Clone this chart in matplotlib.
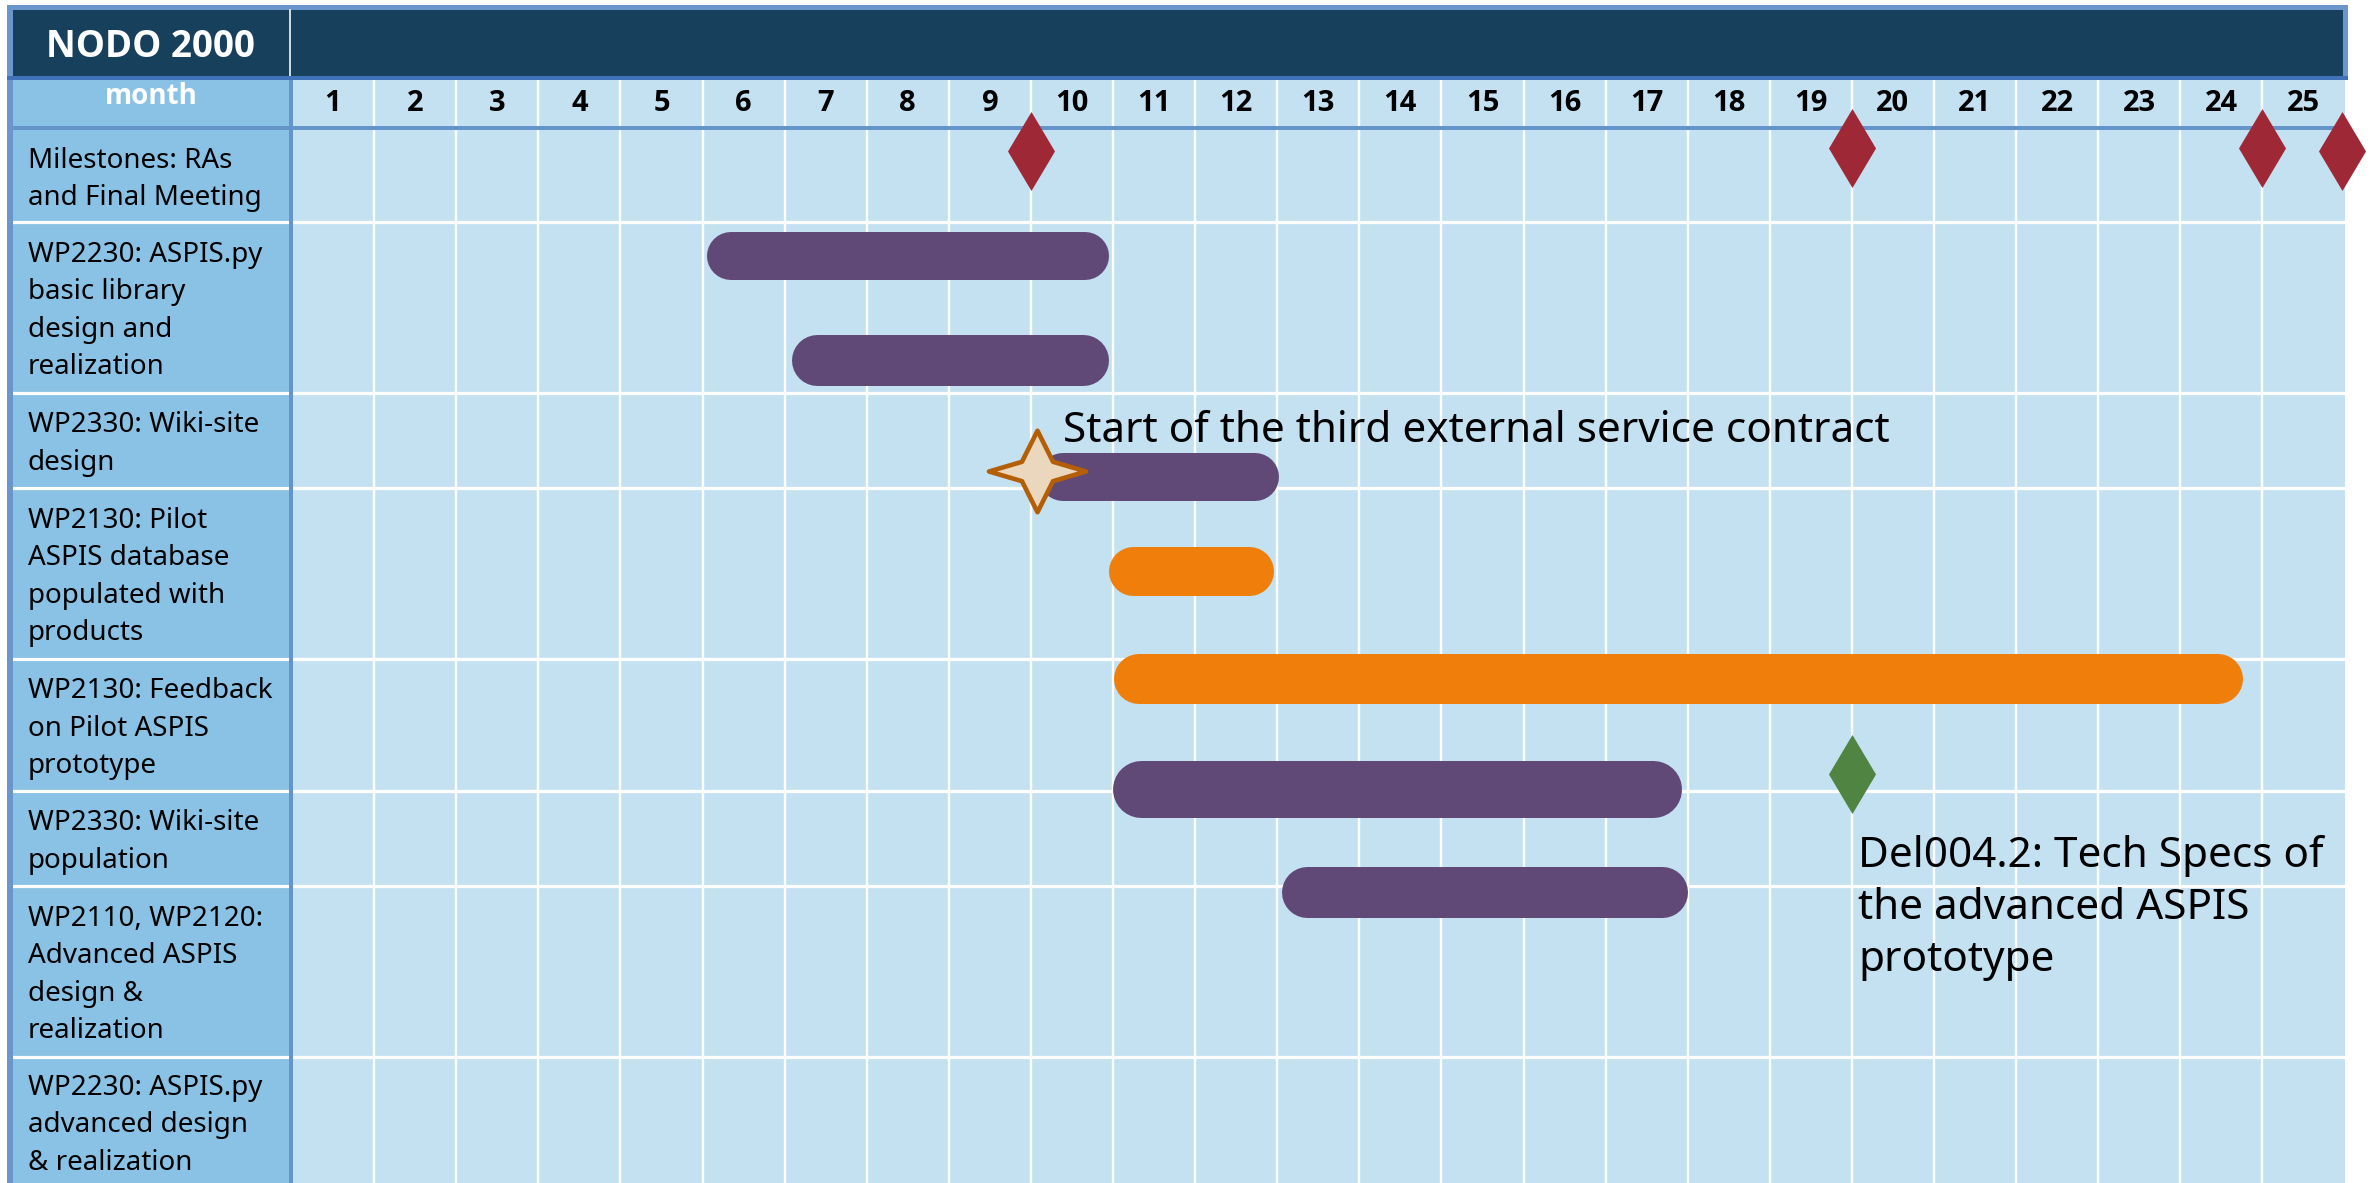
import matplotlib
matplotlib.use("Agg")
import matplotlib.pyplot as plt
from matplotlib.patches import Rectangle
from matplotlib.path import Path
from matplotlib.markers import MarkerStyle
from matplotlib import font_manager

plt.rcParams['font.family'] = ['Noto Sans', 'DejaVu Sans']

# ---------------- data ----------------
title = "NODO 2000"
month_header = "month"
months = list(range(1, 26))
row_labels = [
    "Milestones: RAs\nand Final Meeting",
    "WP2230: ASPIS.py\nbasic library\ndesign and\nrealization",
    "WP2330: Wiki-site\ndesign",
    "WP2130: Pilot\nASPIS database\npopulated with\nproducts",
    "WP2130: Feedback\non Pilot ASPIS\nprototype",
    "WP2330: Wiki-site\npopulation",
    "WP2110, WP2120:\nAdvanced ASPIS\ndesign &\nrealization",
    "WP2230: ASPIS.py\nadvanced design\n& realization",
]
# task bars: start / end in elapsed months
task_start = [5.05, 6.09, 9.10, 9.95, 10.01, 9.99, 12.05]
task_end = [9.95, 9.95, 12.02, 11.95, 23.76, 16.93, 17.00]
task_kind = ["purple", "purple", "purple", "orange", "orange", "purple", "purple"]
milestone_months = [9.0, 19.0, 24.0, 24.97]
deliverable_months = [19.0]
event_months = [9.07]
event_text = "Start of the third external service contract"
deliverable_text = "Del004.2: Tech Specs of\nthe advanced ASPIS\nprototype"

# ---------------- layout / style ----------------
W, H, DPI = 2372, 1183, 100
X0, MPX = 292.0, 82.1          # pixel of month 0 and pixels per month
PT = 72.0 / DPI                # points per pixel

# pick a family that really has a bold face
BOLD_FAMILY = ['DejaVu Sans']
for fam in ['Noto Sans', 'Open Sans', 'Lato', 'Roboto']:
    try:
        fp = font_manager.FontProperties(family=fam, weight='bold')
        path = font_manager.findfont(fp, fallback_to_default=False)
        if 'bold' in path.lower() or 'black' in path.lower():
            BOLD_FAMILY = [fam, 'DejaVu Sans']
            break
    except Exception:
        pass

C_DARK = "#17405C"
C_LABEL = "#8AC2E5"
C_CELL = "#C4E1F2"
C_FRAME = "#6A96CB"
C_LINE = "#6594CA"
C_LINE2 = "#3F72B8"
KIND_COLORS = {"purple": "#604877", "orange": "#EF7F0A"}
C_MILE = "#9F2836"
C_DEL = "#4F8442"

row_edges = [130, 222, 393, 488, 659, 791, 886, 1057, 1186]
bar_y = [256, 359.5, 477, 570.5, 679, 788.5, 891.5]
bar_h = [48, 51, 48, 49, 50, 57, 51]
milestone_y = [151, 148, 148, 151]
deliverable_y = [774]
event_y = [471]


def X(px):
    return (px - X0) / MPX


fig = plt.figure(figsize=(W / DPI, H / DPI), dpi=DPI)
ax = fig.add_axes([0, 0, 1, 1])
ax.set_xlim(X(0), X(W))
ax.set_ylim(H, 0)
ax.axis("off")


def prect(x0, y0, x1, y1, color, z=1):
    ax.add_patch(Rectangle((X(x0), y0), (x1 - x0) / MPX, y1 - y0,
                           facecolor=color, edgecolor="none", zorder=z,
                           clip_on=False))


# grid area
prect(293, 80, 2345, H, C_CELL, 1)
for k in range(1, 25):
    ax.plot([k, k], [80, H], color="white", lw=2.4 * PT, zorder=2,
            solid_capstyle="butt")
# label column
prect(10, 80, 289, H, C_LABEL, 1)
# row separators
for y in row_edges[1:-1]:
    ax.plot([X(10), 25], [y, y], color="white", lw=3.2 * PT, zorder=2,
            solid_capstyle="butt")
# frame and header
prect(7, 5, 13, H, C_FRAME, 3)
prect(7, 5, 2348, 10, C_FRAME, 3)
prect(2343, 5, 2348, 80, C_FRAME, 3)
prect(13, 10, 2343, 76, C_DARK, 3)
ax.plot([X(290), X(290)], [10, 76], color="white", lw=1.6 * PT, zorder=4)
prect(7, 76, 2348, 80, C_LINE2, 4)
prect(13, 126, 2345, 130, C_LINE, 4)
prect(289, 80, 293, H, C_LINE, 4)

# header texts
ax.text(X(150), 57, title, ha="center", va="baseline", color="white",
        fontsize=26.5, fontweight="bold", family=BOLD_FAMILY, zorder=6)
ax.text(X(151), 104, month_header, ha="center", va="baseline", color="white",
        fontsize=20, fontweight="bold", family=BOLD_FAMILY, zorder=6)
for m in months:
    ax.text(m - 0.5, 110.5, str(m), ha="center", va="baseline", color="black",
            fontsize=21, fontweight="bold", family=BOLD_FAMILY, zorder=6)

# row labels
LS = 37.5
for i, lab in enumerate(row_labels):
    lines = lab.split("\n")
    c = 0.5 * (row_edges[i] + row_edges[i + 1])
    n = len(lines)
    for j, ln in enumerate(lines):
        yb = c + (j - (n - 1) / 2) * LS + 10.5
        ax.text(X(28), yb, ln, ha="left", va="baseline", color="black",
                fontsize=20, zorder=6)

# task bars (rounded)
for s, e, kind, y, h in zip(task_start, task_end, task_kind, bar_y, bar_h):
    r = (h / 2) / MPX
    ax.plot([s + r, e - r], [y, y], color=KIND_COLORS[kind], lw=h * PT,
            solid_capstyle="round", zorder=7)

# diamonds
diamond = Path([(0, 1), (0.595, 0), (0, -1), (-0.595, 0), (0, 1)],
               [Path.MOVETO, Path.LINETO, Path.LINETO, Path.LINETO, Path.CLOSEPOLY])
for m, y in zip(milestone_months, milestone_y):
    ax.plot([m], [y], marker=diamond, markersize=79 * PT, color=C_MILE,
            markeredgewidth=0, linestyle="none", zorder=8, clip_on=False)
for m, y in zip(deliverable_months, deliverable_y):
    ax.plot([m], [y], marker=diamond, markersize=79 * PT, color=C_DEL,
            markeredgewidth=0, linestyle="none", zorder=8, clip_on=False)

# star event
a, b = 0.32, 0.20
star = Path([(1, 0), (a, b), (0, 0.84), (-a, b), (-1, 0), (-a, -b),
             (0, -0.84), (a, -b), (1, 0)],
            [Path.MOVETO] + [Path.LINETO] * 7 + [Path.CLOSEPOLY])
star_marker = MarkerStyle(star, joinstyle="miter")
for m, y in zip(event_months, event_y):
    ax.plot([m], [y], marker=star_marker, markersize=97 * PT,
            markerfacecolor="#EBD7BD", markeredgecolor="#B45F06",
            markeredgewidth=4.6 * PT, linestyle="none", zorder=9)

# annotations
ax.text(X(1063), 442, event_text, ha="left", va="baseline", color="black",
        fontsize=30.4, zorder=10)
for j, ln in enumerate(deliverable_text.split("\n")):
    ax.text(X(1858), 867 + j * 52, ln, ha="left", va="baseline",
            color="black", fontsize=30.4, zorder=10)

fig.savefig("out.png", dpi=DPI, facecolor="white")
